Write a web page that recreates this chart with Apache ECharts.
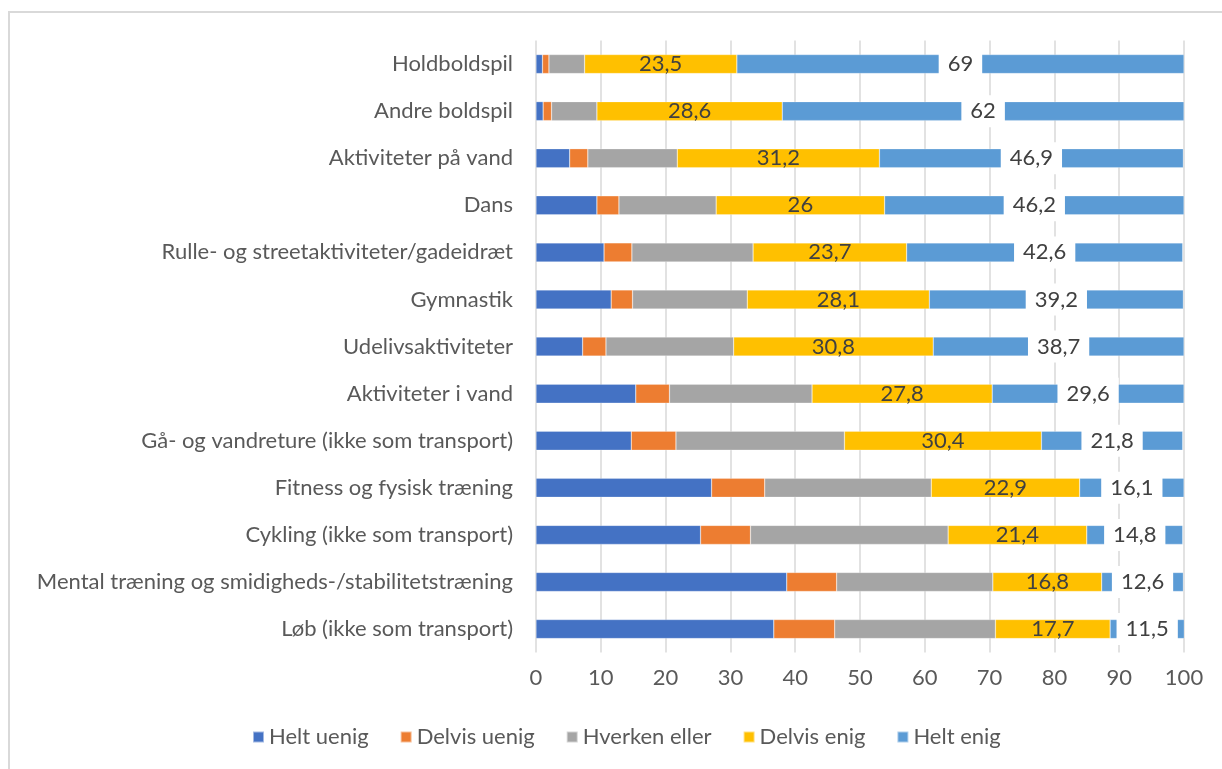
<!DOCTYPE html>
<html>
<head>
<meta charset="utf-8">
<script src="https://cdn.jsdelivr.net/npm/echarts@6/dist/echarts.min.js"></script>
<style>
  html, body { margin: 0; padding: 0; background: #fff; }
  #frame {
    position: absolute; left: 8px; top: 11px; width: 1300px; height: 900px;
    border-top: 2px solid #d9d9d9; border-left: 2px solid #d9d9d9;
  }
  #chart { position: absolute; left: 0; top: 0; width: 1222px; height: 769px; }
</style>
</head>
<body>
<div id="frame"></div>
<div id="chart"></div>
<script>
// Data (percent)
const categories = [
  'Holdboldspil',
  'Andre boldspil',
  'Aktiviteter på vand',
  'Dans',
  'Rulle- og streetaktiviteter/gadeidræt',
  'Gymnastik',
  'Udelivsaktiviteter',
  'Aktiviteter i vand',
  'Gå- og vandreture (ikke som transport)',
  'Fitness og fysisk træning',
  'Cykling (ikke som transport)',
  'Mental træning og smidigheds-/stabilitetstræning',
  'Løb (ikke som transport)'
];
const heltUenig   = [1.0, 1.1, 5.2, 9.4, 10.5, 11.6, 7.2, 15.4, 14.7, 27.1, 25.4, 38.7, 36.7];
const delvisUenig = [1.0, 1.3, 2.8, 3.4, 4.3, 3.3, 3.6, 5.2, 6.9, 8.2, 7.7, 7.7, 9.4];
const hverken     = [5.5, 7.0, 13.8, 15.0, 18.7, 17.7, 19.7, 22.0, 26.0, 25.7, 30.5, 24.1, 24.8];
const delvisEnig  = [23.5, 28.6, 31.2, 26, 23.7, 28.1, 30.8, 27.8, 30.4, 22.9, 21.4, 16.8, 17.7];
const heltEnig    = [69, 62, 46.9, 46.2, 42.6, 39.2, 38.7, 29.6, 21.8, 16.1, 14.8, 12.6, 11.5];

const FONT = 'Lato, "Open Sans", sans-serif';
const FS = 22;
const fmt = p => String(p.value).replace('.', ',');

let myChart = echarts.init(document.getElementById('chart'));

function bar(name, data, color, label) {
  return {
    name: name,
    type: 'bar',
    stack: 'total',
    barWidth: 19,
    data: data,
    itemStyle: { color: color, borderColor: 'rgba(255,255,255,0.5)', borderWidth: 0.5 },
    label: label || { show: false },
    emphasis: { disabled: true }
  };
}

let option = {
  backgroundColor: 'transparent',
  animation: false,
  textStyle: { fontFamily: FONT },
  grid: { left: 536, right: 38, top: 40.5, bottom: 116.4, containLabel: false },
  xAxis: {
    type: 'value',
    min: 0,
    max: 100,
    interval: 10,
    axisLine: { show: false },
    axisTick: { show: false },
    axisLabel: { color: '#595959', fontSize: FS, fontFamily: FONT, margin: 14 },
    splitLine: { show: true, lineStyle: { color: '#d9d9d9', width: 1.5 } }
  },
  yAxis: {
    type: 'category',
    inverse: true,
    data: categories,
    axisLine: { show: false },
    axisTick: { show: false },
    axisLabel: { color: '#595959', fontSize: FS, fontFamily: FONT, margin: 23 }
  },
  legend: {
    bottom: 16,
    left: 247,
    icon: 'rect',
    itemWidth: 11,
    itemHeight: 11,
    itemGap: 31,
    textStyle: { color: '#595959', fontSize: FS, fontFamily: FONT },
    data: ['Helt uenig', 'Delvis uenig', 'Hverken eller', 'Delvis enig', 'Helt enig']
  },
  series: [
    bar('Helt uenig', heltUenig, '#4472C4'),
    bar('Delvis uenig', delvisUenig, '#ED7D31'),
    bar('Hverken eller', hverken, '#A5A5A5'),
    bar('Delvis enig', delvisEnig, '#FFC000', {
      show: true, position: 'inside', color: '#404040', fontSize: FS, fontFamily: FONT, formatter: fmt
    }),
    bar('Helt enig', heltEnig, '#5B9BD5', {
      show: true, position: 'inside', color: '#404040', fontSize: FS, fontFamily: FONT,
      backgroundColor: '#fff', padding: [5, 9], formatter: fmt
    })
  ]
};

myChart.setOption(option, true);
window.addEventListener('resize', () => {
  myChart.resize();
});
</script>
</body>
</html>
